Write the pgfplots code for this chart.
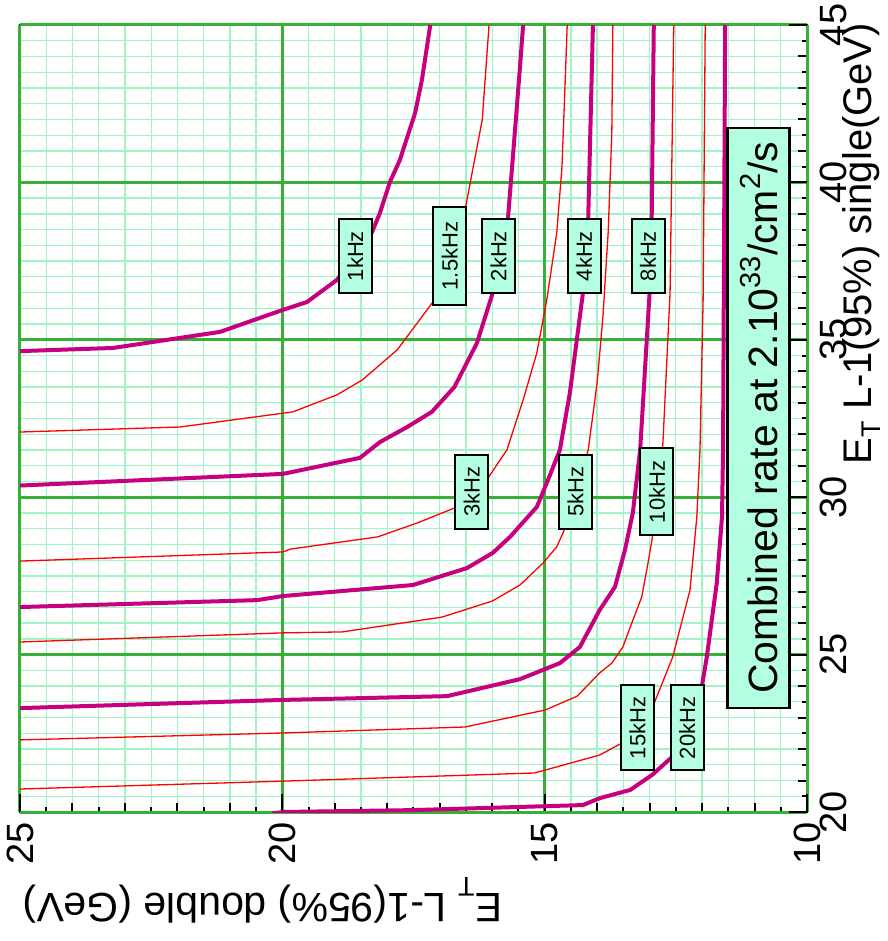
\documentclass[border=0pt]{standalone}
\usepackage{pgfplots}
\pgfplotsset{compat=1.18}
\usepackage{fontspec}
\setmainfont{Liberation Sans}
\definecolor{mag}{HTML}{C8007F}
\definecolor{gmaj}{HTML}{38B038}
\definecolor{gmin}{HTML}{A0F5C4}
\definecolor{boxfill}{HTML}{B4FFE2}
\newcommand{\ET}[1][0.37em]{E\raisebox{-#1}{\fontsize{27}{27}\selectfont T}}
\newcommand{\sups}[1]{\raisebox{0.42em}{\fontsize{29}{29}\selectfont #1}}
\tikzset{lbl/.style={draw=black, line width=2pt, fill=boxfill, rotate=90, inner sep=0pt,
    minimum height=33pt, font=\fontsize{22}{22}\selectfont}}
\begin{document}
\begin{tikzpicture}[x=1pt,y=1pt]
\begin{axis}[
  at={(0,0)}, anchor=south west,
  scale only axis, width=787pt, height=787pt,
  xmin=10, xmax=25, ymin=20, ymax=45,
  x dir=reverse,
  xtick={10,11,...,25}, ytick={20,21,...,45},
  xticklabels={}, yticklabels={},
  minor tick num=1,
  grid=both,
  major grid style={gmin, line width=1.3pt},
  minor grid style={gmin, line width=1.3pt},
  tick align=inside,
  xtick pos=left, ytick pos=right,
  xticklabel pos=left, yticklabel pos=right,
  major tick length=9pt, minor tick length=5pt,
  every tick/.style={black, line width=2pt},
  axis line style={black, line width=2.6pt},
  tick label style={font=\fontsize{38}{38}\selectfont, inner sep=0pt},
  xticklabel style={rotate=90, anchor=east},
  yticklabel style={rotate=90, anchor=north},
  xticklabel shift=10pt, yticklabel shift=13pt,
  extra x ticks={10,15,20,25},
  extra y ticks={20,25,30,35,40,45},
  extra x tick labels={10,15,20,25}, extra y tick labels={20,25,30,35,40,45},
  extra tick style={grid=major, major grid style={gmaj, line width=3pt}, major tick length=18pt},
]
% 1 kHz
\addplot[mag, line width=4pt] coordinates {
(25,34.64) (23.23,34.74) (21.19,35.25) (19.99,35.95) (19.53,36.20) (18.96,36.90)
(18.29,38.42) (18.14,39.03) (17.95,40.01) (17.76,40.71) (17.47,42.20) (17.34,43.25) (17.18,45)};
% 1.5 kHz
\addplot[red, line width=1.3pt] coordinates {
(25,32.07) (21.95,32.23) (19.80,32.71) (18.96,33.25) (18.48,33.72) (17.81,34.68)
(17.13,36.20) (16.50,39.28) (16.19,41.98) (16.06,45)};
% 2 kHz
\addplot[mag, line width=4pt] coordinates {
(25,30.37) (19.99,30.74) (18.52,31.25) (18.14,31.75) (17.62,32.23) (17.15,32.71)
(16.72,33.50) (16.29,34.90) (15.99,36.49) (15.70,38.84) (15.60,40.93) (15.47,43.67) (15.41,45)};
% 3 kHz
\addplot[red, line width=1.3pt] coordinates {
(25,27.97) (19.99,28.26) (19.85,28.35) (18.18,28.74) (17.43,29.18) (16.67,29.69)
(16.08,30.61) (15.72,31.50) (15.41,33.09) (15.15,34.58) (14.96,36.26) (14.77,38.39)
(14.67,40.49) (14.61,43.16) (14.57,45)};
% 4 kHz
\addplot[mag, line width=4pt] coordinates {
(25,26.51) (20.48,26.73) (19.99,26.86) (17.51,27.21) (16.48,27.75) (15.99,28.23)
(15.66,28.74) (15.15,29.69) (14.96,30.45) (14.71,31.50) (14.52,33.31) (14.27,36.49)
(14.17,38.84) (14.08,45)};
% 5 kHz
\addplot[red, line width=1.3pt] coordinates {
(25,25.40) (19.99,25.69) (18.86,25.72) (16.96,26.19) (16.00,26.70) (15.47,27.21)
(15.03,27.91) (14.77,28.42) (14.61,29.02) (14.17,31.50) (14.00,33.63) (13.89,35.72)
(13.79,38.39) (13.72,41.57) (13.70,45)};
% 8 kHz
\addplot[mag, line width=4pt] coordinates {
(25,23.30) (19.99,23.56) (16.86,23.68) (15.47,24.22) (14.71,24.73) (14.33,25.24)
(13.95,26.42) (13.66,27.15) (13.47,28.32) (13.32,29.50) (13.18,31.50) (13.00,36.49)
(12.96,38.84) (12.92,45)};
% 10 kHz
\addplot[red, line width=1.3pt] coordinates {
(25,22.29) (19.99,22.51) (16.52,22.70) (14.99,23.24) (14.38,23.68) (13.95,24.42)
(13.72,24.73) (13.51,25.24) (13.34,26.00) (13.15,26.83) (13.03,27.91) (12.94,28.80)
(12.75,31.59) (12.61,36.49) (12.54,45)};
% 15 kHz
\addplot[red, line width=1.3pt] coordinates {
(25,20.73) (19.99,20.98) (15.19,21.24) (13.95,21.81) (13.53,22.19) (12.94,23.34)
(12.56,24.92) (12.23,27.05) (12.10,29.37) (12.04,31.50) (11.98,36.26) (11.94,45)};
% 20 kHz
\addplot[mag, line width=4pt] coordinates {
(20.2,19.95) (19.99,20.0) (17.51,20.06) (14.27,20.22) (13.95,20.44) (13.37,20.70)
(12.95,21.18) (12.57,21.75) (12.00,24.03) (11.91,24.92) (11.72,27.27) (11.62,29.37)
(11.60,31.50) (11.56,45)};

\node[lbl, minimum width=74pt] at (axis cs:18.61,37.66) {1kHz};
\node[lbl, minimum width=98pt] at (axis cs:16.81,37.66) {1.5kHz};
\node[lbl, minimum width=74pt] at (axis cs:15.88,37.66) {2kHz};
\node[lbl, minimum width=74pt] at (axis cs:14.25,37.66) {4kHz};
\node[lbl, minimum width=74pt] at (axis cs:13.03,37.66) {8kHz};
\node[lbl, minimum width=74pt] at (axis cs:16.39,30.17) {3kHz};
\node[lbl, minimum width=74pt] at (axis cs:14.41,30.17) {5kHz};
\node[lbl, minimum width=87pt] at (axis cs:12.86,30.17) {10kHz};
\node[lbl, minimum width=85pt] at (axis cs:13.23,22.67) {15kHz};
\node[lbl, minimum width=85pt] at (axis cs:12.28,22.67) {20kHz};
\node[draw=black, line width=2.5pt, fill=boxfill, rotate=90, inner sep=0pt,
  minimum width=580pt, minimum height=62pt, font=\fontsize{41}{41}\selectfont]
  at (axis cs:10.92,32.52) {Combined rate at 2.10\sups{33}/cm\sups{2}/s};
\end{axis}
\node[rotate=180, anchor=base, inner sep=0pt, font=\fontsize{41}{41}\selectfont]
  at (242.5,-81) {\ET\ L-1(95\%) double (GeV)};
\node[rotate=90, anchor=base, inner sep=0pt, font=\fontsize{40}{40}\selectfont]
  at (851,568.5) {\ET[0.24em]\ L-1(95\%) single(GeV)};
\pgfresetboundingbox
\path[use as bounding box] (-20,-129) rectangle (867,812);
\end{tikzpicture}
\end{document}
